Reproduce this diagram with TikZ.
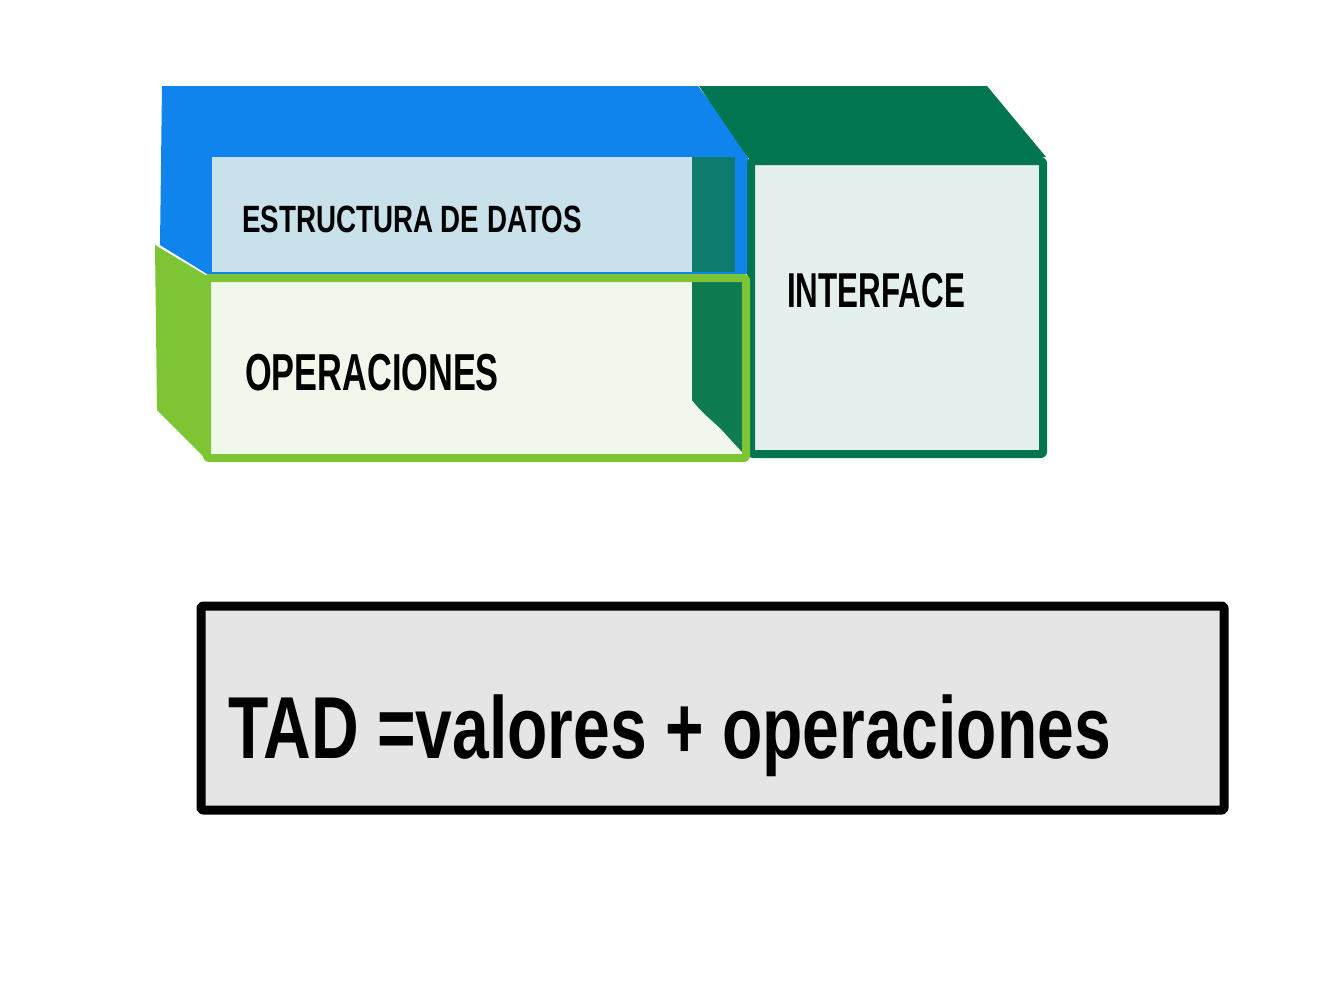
\documentclass[tikz,border=0pt]{standalone}
\usepackage{graphicx}
\usepackage{fontspec}
\setmainfont{Liberation Sans}
\usepackage{tikz}
\usetikzlibrary{positioning}

\definecolor{azul}{HTML}{0E84EC}
\definecolor{azulclaro}{HTML}{C8E1EA}
\definecolor{petroleo}{HTML}{0F7B6F}
\definecolor{lima}{HTML}{7DC535}
\definecolor{limaclaro}{HTML}{F1F7EA}
\definecolor{verdeop}{HTML}{0E7B50}
\definecolor{verdeif}{HTML}{00754F}
\definecolor{verdeclaro}{HTML}{E4F0EE}
\definecolor{gris}{HTML}{E5E5E5}

\begin{document}
\begin{tikzpicture}[x=1pt,y=-1pt,line join=round,line cap=round,
   lbl/.style={anchor=base west,inner sep=0pt,font=\bfseries,text=black}]
  \useasboundingbox (0,0) rectangle (1319,999);
  % estructura de datos
  \fill[azul] (162,86) -- (698,86) -- (748,152) -- (748,274) -- (207,274) -- (160,245) -- cycle;
  \fill[azulclaro] (212,157) rectangle (692,272);
  \fill[petroleo] (692,157) rectangle (735,272);
  % interfaz
  \fill[verdeif] (699,86) -- (987,86) -- (1046,157) -- (750,160) -- (744,152) -- cycle;
  \draw[verdeif,fill=verdeclaro,line width=8,rounded corners=2] (751,161) rectangle (1043,454);
  % operaciones
  \fill[limaclaro] (207,278) rectangle (747,458);
  \fill[verdeop] (692,282) -- (742,282) -- (742,452) -- (720,428) .. controls (700,410) .. (692,400) -- cycle;
  \fill[lima] (155,245) -- (207,276) -- (207,460) -- (157,410) -- cycle;
  \draw[lima,line width=8,rounded corners=2] (207,278) rectangle (746,458);
  % TAD
  \draw[black,fill=gris,line width=9,rounded corners=2] (201,606) rectangle (1224,810);
  \node[lbl,font=\fontsize{38}{38}\bfseries] (estr) at (242,232) {\scalebox{0.73}[1]{ESTRUCTURA DE DATOS}};
  \node[lbl,font=\fontsize{52}{52}\bfseries] (oper) at (245,390) {\scalebox{0.66}[1]{OPERACIONES}};
  \node[lbl,font=\fontsize{49}{49}\bfseries] (intf) at (787,307) {\scalebox{0.64}[1]{INTERFACE}};
  \node[lbl,font=\fontsize{88}{88}\bfseries] (tad) at (228,758) {\scalebox{0.75}[1]{TAD =valores + operaciones}};
\end{tikzpicture}
\end{document}
